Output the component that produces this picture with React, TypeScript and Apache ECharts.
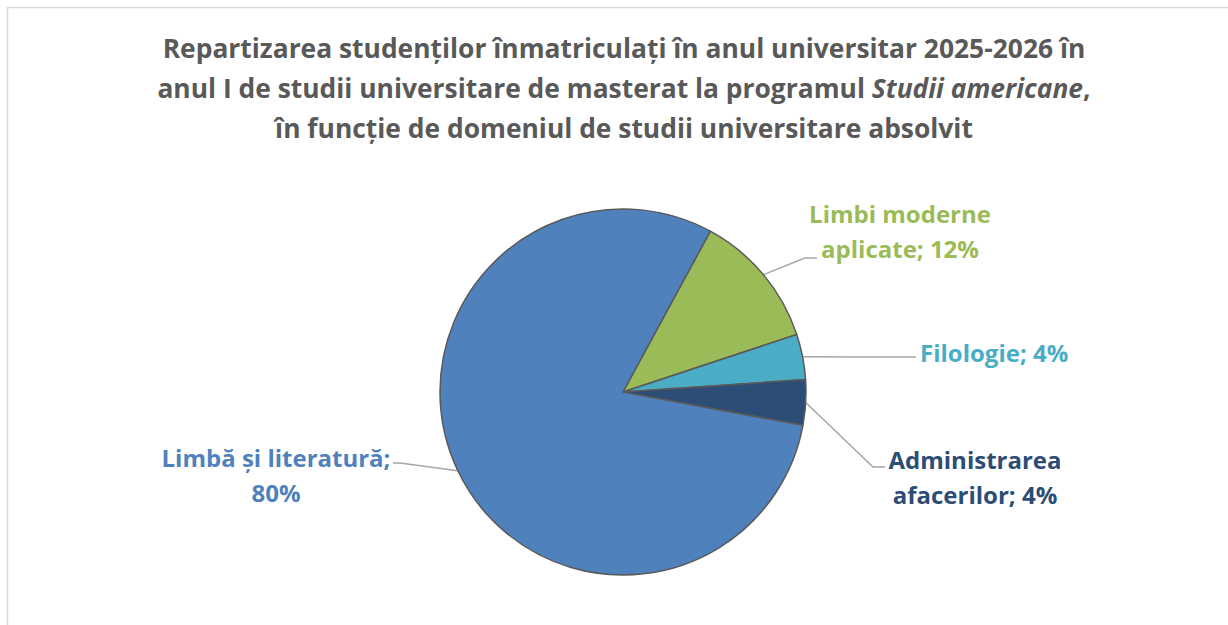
import React, { useEffect, useRef } from "react";
import * as echarts from "echarts";

const categories = ["Limbi moderne aplicate", "Filologie", "Administrarea afacerilor", "Limbă și literatură"];
const labelNames = ["Limbi moderne\naplicate", "Filologie", "Administrarea\nafacerilor", "Limbă și literatură"];
const labelSeparators = ["; ", "; ", "; ", ";\n"];
const values = [12, 4, 4, 80];
const colors = ["#9BBB59", "#4BACC6", "#2C4D75", "#4F81BD"];
const titleLines = [
  "Repartizarea studenților înmatriculați în anul universitar 2025-2026 în",
  "anul I de studii universitare de masterat la programul {i|Studii americane},",
  "în funcție de domeniul de studii universitare absolvit",
];

const FONT = "Open Sans";

export default function App() {
  const ref = useRef<HTMLDivElement>(null);
  useEffect(() => {
    document.body.style.margin = "0";
    const chart = echarts.init(ref.current!, null, { renderer: "svg" });
    const layouts = [
      { x: 900, y: 231, align: "center", pts: [[805, 258], [817, 258]] },
      { x: 920, y: 352, align: "left", pts: [[860, 357], [916, 357]] },
      { x: 975, y: 477, align: "center", pts: [[873, 467], [885, 467]] },
      { x: 276, y: 475, align: "center", pts: [[400, 463], [393, 463]] },
    ];
    chart.setOption({
      animation: false,
      backgroundColor: "#FFFFFF",
      graphic: [
        {
          type: "rect",
          shape: { x: 7.5, y: 7.5, width: 1300, height: 700 },
          style: { fill: "none", stroke: "#D9D9D9", lineWidth: 1.5 },
          silent: true,
        },
        {
          type: "text",
          x: 624,
          y: 28,
          style: {
            text: titleLines.join("\n"),
            align: "center",
            verticalAlign: "top",
            fill: "#595959",
            fontFamily: FONT,
            fontWeight: "bold",
            fontSize: 26.4,
            lineHeight: 40,
            rich: {
              i: {
                fontFamily: FONT,
                fontWeight: "bold",
                fontStyle: "italic",
                fontSize: 26.4,
                lineHeight: 40,
                fill: "#595959",
              },
            },
          },
        },
      ],
      series: [
        {
          type: "pie",
          center: [623, 392],
          radius: 183,
          startAngle: 61.5,
          clockwise: true,
          avoidLabelOverlap: false,
          data: categories.map((c, i) => ({
            name: c,
            value: values[i],
            itemStyle: { color: colors[i] },
            label: { color: colors[i] },
          })),
          itemStyle: { borderColor: "#595959", borderWidth: 1.5 },
          emphasis: { disabled: true },
          label: {
            show: true,
            position: "outside",
            fontFamily: FONT,
            fontWeight: "bold",
            fontSize: 24,
            lineHeight: 35,
            formatter: (p: any) =>
              labelNames[p.dataIndex] + labelSeparators[p.dataIndex] + Math.round(p.percent) + "%",
          },
          labelLine: {
            show: true,
            length: 20,
            length2: 10,
            lineStyle: { color: "#A6A6A6", width: 1.5 },
          },
          labelLayout: (params: any) => {
            const L = layouts[params.dataIndex];
            const p0 = params.labelLinePoints ? params.labelLinePoints[0] : L.pts[0];
            return {
              x: L.x,
              y: L.y,
              align: L.align,
              verticalAlign: "middle",
              labelLinePoints: [p0, ...L.pts],
            };
          },
        },
      ],
    });
    return () => chart.dispose();
  }, []);
  return <div ref={ref} style={{ width: 1228, height: 625 }} />;
}
